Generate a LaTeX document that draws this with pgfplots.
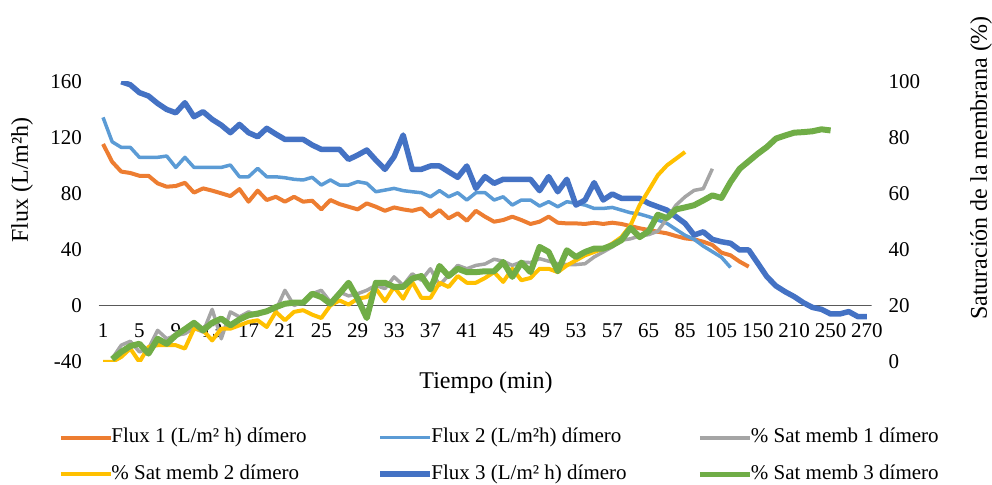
\documentclass[border=0pt]{standalone}
\usepackage{fontspec}
\setmainfont{Liberation Serif}
\usepackage{pgfplots}
\usepackage{pgfplotstable}
\pgfplotsset{compat=1.18}

\definecolor{cOrange}{HTML}{ED7D31}
\definecolor{cLBlue}{HTML}{5B9BD5}
\definecolor{cGray}{HTML}{A5A5A5}
\definecolor{cYellow}{HTML}{FFC000}
\definecolor{cDBlue}{HTML}{4472C4}
\definecolor{cGreen}{HTML}{70AD47}
\definecolor{cAxis}{HTML}{595959}

\pgfplotstableread{
i v
0 115.7
1 103
2 96
3 95
4 93
5 93
6 87.6
7 85.2
8 85.7
9 88
10 81
11 84
12 82.4
13 80.5
14 78.5
15 83.5
16 74.5
17 82.4
18 75.7
19 78
20 74.5
21 78
22 74.5
23 75.2
24 69
25 75.7
26 72.8
27 70.9
28 69
29 73.3
30 70.9
31 68
32 70.4
33 69
34 68
35 69.7
36 63.8
37 68.5
38 62.6
39 66.2
40 60.9
41 68
42 63.8
43 60.2
44 61.4
45 63.8
46 61.4
47 58.6
48 60.2
49 63.8
50 59.5
51 59
52 59
53 58.6
54 59.5
55 58.6
56 59.5
57 58.6
58 57.1
59 55.5
60 54.3
61 53
62 51.9
63 50
64 48.3
65 47.6
66 45.9
67 43.6
68 38.1
69 36.2
70 31.7
71 28.1
}\fluxA

\pgfplotstableread{
i v
0 134.7
1 117.3
2 113.3
3 113.3
4 106.2
5 106.2
6 106.2
7 107.1
8 99
9 106.2
10 99
11 99
12 99
13 99
14 100.7
15 92.3
16 92.3
17 98.3
18 92.3
19 92.3
20 91.6
21 90.5
22 90
23 91.9
24 86.4
25 90
26 86.4
27 86.4
28 88.8
29 87.6
30 81.6
31 82.8
32 84
33 82.4
34 81.6
35 80.9
36 78
37 82.4
38 78
39 80.9
40 75.7
41 80.9
42 81
43 75.7
44 78
45 72.1
46 75.7
47 75.7
48 71.4
49 74.5
50 70.9
51 74.5
52 73.3
53 72.1
54 69.7
55 69.7
56 70.4
57 68.5
58 66.6
59 65.7
60 63.8
61 61.4
62 59
63 54.7
64 50.5
65 47.6
66 42.8
67 38.8
68 34.8
69 27.5
}\fluxB

\pgfplotstableread{
i v
2 160.2
3 158
4 152.4
5 150
6 144.7
7 140.4
8 138
9 145.2
10 135.2
11 138.8
12 133.3
13 129.2
14 123.8
15 129.7
16 123.8
17 120.9
18 126.9
19 122.8
20 119
21 119
22 119
23 115
24 111.9
25 111.9
26 111.9
27 104.7
28 107.8
29 111.4
30 104.2
31 97.6
32 106.6
33 122.1
34 97.6
35 97.6
36 100
37 100
38 95.9
39 91.9
40 100
41 84
42 92.4
43 87.6
44 90.5
45 90.5
46 90.5
47 90.5
48 82.4
49 92.4
50 81.6
51 90.5
52 72.1
53 75.7
54 88.1
55 75.7
56 80
57 76.9
58 76.9
59 76.9
60 73.3
61 70.9
62 68.5
63 63.8
64 59
65 50.7
66 53
67 47.6
68 45.9
69 44.8
70 40
71 40
72 30.5
73 20.9
74 14.3
75 10.2
76 6.7
77 2.4
78 -1
79 -2.4
80 -5.7
81 -5.7
82 -4
83 -7.6
84 -7.6
}\fluxC

\pgfplotstableread{
i s
1 1.2
2 6
3 7.4
4 3.6
5 4.8
6 11.3
7 8.3
8 9.5
9 10.1
10 12.1
11 10.7
12 18.8
13 8.3
14 17.9
15 16.1
16 17.9
17 16.7
18 18.5
19 18.5
20 25.6
21 20.2
22 21.4
23 24.4
24 25.6
25 21.4
26 25
27 23.6
28 24.4
29 25.6
30 27.4
31 26.2
32 30.4
33 27.4
34 31.5
35 29.2
36 33.3
37 27.4
38 31
39 34.5
40 33.3
41 34.5
42 35
43 36.7
44 36
45 34.5
46 35.7
47 35.5
48 36.9
49 36
50 35.1
51 34.8
52 34.8
53 35.1
54 37.5
55 39.3
56 41.1
57 43.5
58 44
59 45
60 45.5
61 46.7
62 51.2
63 56
64 59
65 61.3
66 61.9
67 69
}\satA

\pgfplotstableread{
i s
0 0
1 0
2 1.8
3 4.8
4 0
5 5.4
6 6
7 6
8 6
9 4.8
10 11.9
11 11.3
12 7.7
13 11.9
14 11.9
15 13.1
16 14.3
17 14.9
18 12.5
19 17.9
20 14.9
21 17.9
22 18.5
23 16.9
24 15.7
25 20.2
26 22
27 20.5
28 22.6
29 23.2
30 26.2
31 21.7
32 26.8
33 22.6
34 28.6
35 22.9
36 22.9
37 28.3
38 26.8
39 30.7
40 28.3
41 28.3
42 30
43 32.1
44 28.6
45 33.3
46 29.2
47 30
48 33.3
49 33.3
50 32.1
51 34.5
52 36.3
53 38.1
54 39.3
55 40.5
56 42.3
57 44.6
58 48.8
59 56
60 61.3
61 66.7
62 70.2
63 72.6
64 75
}\satB

\pgfplotstableread{
i s
1 1
2 3.6
3 5.7
4 6.5
5 3
6 8.3
7 6.5
8 9.5
9 11.7
10 14
11 11.3
12 14
13 15.5
14 13.1
15 15.2
16 16.7
17 17.3
18 18.1
19 19.6
20 20.8
21 21.2
22 21.2
23 24.4
24 23.2
25 20.8
26 24.4
27 28.3
28 22.6
29 15.7
30 28.3
31 28.3
32 26.8
33 26.8
34 29.8
35 30.7
36 25.9
37 34.3
38 30.7
39 33.3
40 32.1
41 32.1
42 32.4
43 32.4
44 35.7
45 30.4
46 35.5
47 32.1
48 41.1
49 39.3
50 32.4
51 39.9
52 37.5
53 39.3
54 40.5
55 40.5
56 41.7
57 43.5
58 47.9
59 44.6
60 46.7
61 52.6
62 51.4
63 54.5
64 55.2
65 56
66 57.7
67 59.5
68 58.6
69 64.3
70 69
71 71.7
72 74.4
73 76.8
74 79.8
75 80.9
76 81.9
77 82.1
78 82.4
79 83.1
80 82.7
}\satC

\newcommand\legtxt[1]{\makebox[266pt][l]{#1}}

\begin{document}
\begin{tikzpicture}
\useasboundingbox (0,0) rectangle (992pt,484pt);

\pgfplotsset{
  common/.style={
    at={(98.5pt,122pt)}, anchor=south west,
    scale only axis, width=773pt, height=280pt,
    xmin=-0.5, xmax=84.5,
    axis line style={draw=none},
    major tick length=0pt,
    tick label style={font=\fontsize{21}{25}\selectfont},
    /pgf/number format/assume math mode=true,
    line join=round,
  },
}

\begin{axis}[
  common,
  ymin=-40, ymax=160,
  ytick={-40,0,...,160},
  yticklabel style={xshift=-13pt},
  xtick={0,4,...,84},
  xticklabels={1,5,9,13,17,21,25,29,33,37,41,45,49,53,57,65,85,105,150,210,250,270},
  xticklabel style={anchor=base, yshift=24pt},
  legend columns=3,
  legend image code/.code={\draw[#1] (0pt,0pt) -- (50pt,0pt);},
  legend style={
    at={(axis description cs:-0.0515,-0.2335)}, anchor=north west,
    draw=none, fill=none, inner sep=0pt,
    font=\fontsize{21}{25}\selectfont,
    nodes={inner sep=0pt, text height=15pt, text depth=5pt},
    row sep=16.5pt,
    /tikz/every odd column/.append style={column sep=-1.5pt},
  },
]
\draw[cAxis, line width=1pt] (axis cs:-0.5,0) -- (axis cs:84.5,0);
\addplot[cOrange, line width=4pt] table[x=i, y=v] {\fluxA};
\addlegendentry{\legtxt{Flux 1 (L/m² h) dímero}}
\addplot[cLBlue, line width=3.5pt] table[x=i, y=v] {\fluxB};
\addlegendentry{\legtxt{Flux 2 (L/m²h) dímero}}
\addlegendimage{cGray, line width=4pt}
\addlegendentry{\legtxt{\% Sat memb 1 dímero}}
\addlegendimage{cYellow, line width=4pt}
\addlegendentry{\legtxt{\% Sat memb 2 dímero}}
\addplot[cDBlue, line width=5.5pt] table[x=i, y=v] {\fluxC};
\addlegendentry{\legtxt{Flux 3 (L/m² h) dímero}}
\addlegendimage{cGreen, line width=5pt}
\addlegendentry{\legtxt{\% Sat memb 3 dímero}}
\end{axis}

\begin{axis}[
  common,
  ymin=0, ymax=100,
  ytick={0,20,...,100},
  axis y line*=right,
  axis x line=none,
  xtick=\empty,
  yticklabel style={xshift=13.5pt},
]
\addplot[cGray, line width=3.5pt] table[x=i, y=s] {\satA};
\addplot[cYellow, line width=4pt] table[x=i, y=s] {\satB};
\addplot[cGreen, line width=6pt] table[x=i, y=s] {\satC};
\end{axis}

\node[rotate=90, font=\fontsize{24}{28}\selectfont] at (22pt,304pt) {Flux (L/m²h)};
\node[rotate=90, font=\fontsize{24}{28}\selectfont] at (981pt,316pt) {Saturación de la membrana (\%)};
\node[font=\fontsize{24}{28}\selectfont] at (486pt,101.5pt) {Tiempo (min)};
\end{tikzpicture}
\end{document}
